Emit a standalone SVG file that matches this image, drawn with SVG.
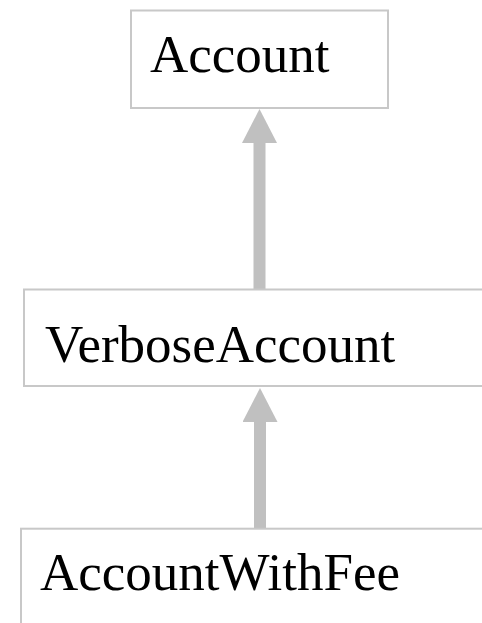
<svg xmlns="http://www.w3.org/2000/svg" width="482" height="623" viewBox="0 0 482 623">
  <style>
    .box { fill: #ffffff; stroke: #c8c8c8; stroke-width: 2; }
    .label { font-family: "Liberation Serif", "Times New Roman", serif; font-size: 53px; fill: #000000; }
    .edge { stroke: #c0c0c0; stroke-width: 12; fill: none; }
  </style>
  <defs>
    <marker id="head" markerUnits="userSpaceOnUse" viewBox="0 0 35 35" markerWidth="35" markerHeight="35" refX="0" refY="17.5" orient="auto">
      <path d="M0,0 L34,17.5 L0,35 z" fill="#c0c0c0"/>
    </marker>
  </defs>
  <rect width="482" height="623" fill="#ffffff"/>
  <g id="connectors">
    <line class="edge" x1="259.5" y1="289" x2="259.5" y2="143" marker-end="url(#head)"/>
    <line class="edge" x1="260" y1="529" x2="260" y2="422" marker-end="url(#head)"/>
  </g>
  <g id="node-account">
    <rect class="box" x="131" y="10.5" width="257" height="97.5"/>
    <text class="label" x="150" y="72">Account</text>
  </g>
  <g id="node-verboseaccount">
    <rect class="box" x="24" y="289.5" width="470" height="96.5"/>
    <text class="label" x="45" y="362">VerboseAccount</text>
  </g>
  <g id="node-accountwithfee">
    <rect class="box" x="21" y="528.7" width="473" height="110"/>
    <text class="label" x="40" y="590">AccountWithFee</text>
  </g>
</svg>
